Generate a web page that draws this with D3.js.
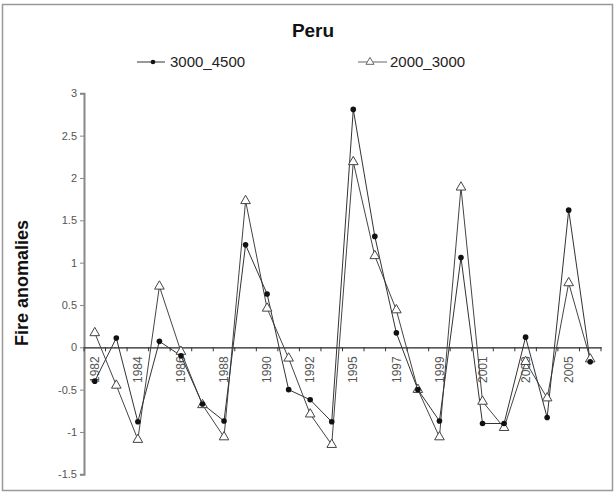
<!DOCTYPE html>
<html><head><meta charset="utf-8">
<script src="https://cdn.jsdelivr.net/npm/d3@7"></script>
<style>body{margin:0;background:#fff}svg{display:block;font-family:"Liberation Sans",Arial,sans-serif}</style>
</head><body><svg id="c" width="616" height="497"></svg>
<script>
const years = ["1982","1983","1984","1985","1986","1987","1988","1989","1990","1991","1992","1994","1995","1996","1997","1998","1999","2000","2001","2002","2003","2004","2005","2006"];
const labelYears = ["1982","1984","1986","1988","1990","1992","1995","1997","1999","2001","2003","2005"];
const s3000_4500 = [-0.40,0.11,-0.88,0.07,-0.10,-0.67,-0.87,1.21,0.63,-0.50,-0.62,-0.88,2.81,1.31,0.17,-0.50,-0.87,1.06,-0.90,-0.90,0.12,-0.83,1.62,-0.17];
const s2000_3000 = [0.17,-0.45,-1.09,0.72,-0.05,-0.68,-1.06,1.73,0.46,-0.13,-0.79,-1.15,2.19,1.08,0.44,-0.50,-1.06,1.89,-0.64,-0.95,-0.17,-0.60,0.76,-0.14];
const yTicks = [-1.5,-1,-0.5,0,0.5,1,1.5,2,2.5,3];
const seriesNames = ["3000_4500","2000_3000"];

const svg = d3.select("#c");
svg.append("rect").attr("x",2.5).attr("y",4.5).attr("width",610).attr("height",486)
  .attr("fill","#fff").attr("stroke","#999").attr("stroke-width",1.5);

const x = d3.scaleBand().domain(years).range([84,601]).padding(0);
const y = d3.scaleLinear().domain([-1.5,3]).range([474.3,93.3]);
const cx = d => x(d) + x.bandwidth()/2;

// title
svg.append("text").attr("x",313).attr("y",37).attr("text-anchor","middle")
  .attr("font-size",19).attr("font-weight","bold").attr("fill","#111").text("Peru");
// y title
svg.append("text").attr("transform","translate(28,283) rotate(-90)").attr("text-anchor","middle")
  .attr("font-size",18).attr("font-weight","bold").attr("fill","#111").text("Fire anomalies");

// y axis
const ya = svg.append("g").attr("transform","translate(84,0)")
  .call(d3.axisLeft(y).tickValues(yTicks).tickSize(4).tickPadding(3).tickFormat(d=>String(d)));
ya.select(".domain").attr("stroke","#888").attr("stroke-width",2);
ya.selectAll(".tick line").attr("stroke","#888");
ya.selectAll(".tick text").attr("font-size",11).attr("fill","#555").attr("font-family","Liberation Sans, Arial, sans-serif");

// x axis at zero
const xa = svg.append("g").attr("transform",`translate(0,${y(0)})`)
  .call(d3.axisBottom(x).tickValues(labelYears).tickSize(0).tickPadding(0));
xa.select(".domain").attr("stroke","#222").attr("stroke-width",1.2);
xa.selectAll(".tick text").attr("font-size",12).attr("fill","#555")
  .attr("font-family","Liberation Sans, Arial, sans-serif")
  .attr("text-anchor","end").attr("dy","0.35em")
  .attr("transform","translate(0,9) rotate(-90)");
// boundary ticks
const bounds = years.map(d=>x(d)).concat([x.range()[1]]);
svg.append("g").selectAll("line").data(bounds).join("line")
  .attr("x1",d=>d).attr("x2",d=>d).attr("y1",y(0)).attr("y2",y(0)+4)
  .attr("stroke","#333").attr("stroke-width",1);

const line = d3.line().x((d,i)=>cx(years[i])).y(d=>y(d));
svg.append("path").attr("d",line(s2000_3000)).attr("fill","none").attr("stroke","#444").attr("stroke-width",1);
svg.append("path").attr("d",line(s3000_4500)).attr("fill","none").attr("stroke","#333").attr("stroke-width",1);

const tri = d3.symbol().type(d3.symbolTriangle).size(40);
svg.append("g").selectAll("path").data(s2000_3000).join("path")
  .attr("d",tri).attr("transform",(d,i)=>`translate(${cx(years[i])},${y(d)})`)
  .attr("fill","#fff").attr("stroke","#444").attr("stroke-width",1);
svg.append("g").selectAll("circle").data(s3000_4500).join("circle")
  .attr("cx",(d,i)=>cx(years[i])).attr("cy",d=>y(d)).attr("r",2.8).attr("fill","#111");

// legend
const lg = svg.append("g");
lg.append("line").attr("x1",137).attr("x2",165).attr("y1",62).attr("y2",62).attr("stroke","#333");
lg.append("circle").attr("cx",153).attr("cy",62).attr("r",2.3).attr("fill","#111");
lg.append("text").attr("x",170).attr("y",67).attr("font-size",15).attr("fill","#222").text(seriesNames[0]);
lg.append("line").attr("x1",358).attr("x2",387).attr("y1",62).attr("y2",62).attr("stroke","#666");
lg.append("path").attr("d",d3.symbol().type(d3.symbolTriangle).size(28)).attr("transform","translate(370,62)")
  .attr("fill","#fff").attr("stroke","#666");
lg.append("text").attr("x",390).attr("y",67).attr("font-size",15).attr("fill","#222").text(seriesNames[1]);
</script></body></html>
